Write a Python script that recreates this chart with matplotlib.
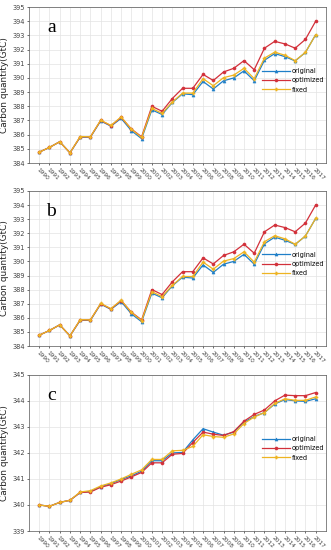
import matplotlib
matplotlib.use("Agg")
import matplotlib.pyplot as plt
import numpy as np

years = list(range(1990, 2018))

ab_original = [384.77, 385.10, 385.50, 384.72, 385.82, 385.82, 386.97, 386.60, 387.15, 386.28,
               385.72, 387.75, 387.42, 388.27, 388.88, 388.82, 389.75, 389.22, 389.80, 390.00,
               390.50, 389.80, 391.25, 391.72, 391.50, 391.20, 391.80, 393.05]
ab_optimized = [384.77, 385.10, 385.50, 384.72, 385.85, 385.85, 387.00, 386.63, 387.22, 386.40,
                385.85, 388.00, 387.65, 388.55, 389.27, 389.27, 390.25, 389.82, 390.42, 390.68,
                391.22, 390.58, 392.10, 392.58, 392.40, 392.10, 392.72, 394.00]
ab_fixed = [384.77, 385.10, 385.50, 384.72, 385.87, 385.85, 387.02, 386.65, 387.25, 386.38,
            385.80, 387.85, 387.50, 388.30, 388.93, 388.93, 389.95, 389.45, 390.02, 390.20,
            390.68, 389.95, 391.40, 391.82, 391.60, 391.22, 391.80, 393.05]

c_original = [340.00, 339.95, 340.10, 340.18, 340.48, 340.52, 340.70, 340.82, 340.98, 341.12,
              341.30, 341.70, 341.70, 342.00, 342.02, 342.50, 342.93, 342.80, 342.68, 342.80,
              343.18, 343.40, 343.55, 343.88, 344.05, 344.00, 343.98, 344.08]
c_optimized = [340.00, 339.95, 340.10, 340.18, 340.48, 340.50, 340.68, 340.78, 340.92, 341.08,
               341.25, 341.62, 341.62, 341.95, 341.98, 342.40, 342.80, 342.72, 342.67, 342.82,
               343.22, 343.48, 343.65, 344.00, 344.22, 344.20, 344.20, 344.32]
c_fixed = [340.00, 339.95, 340.10, 340.18, 340.50, 340.55, 340.73, 340.85, 341.00, 341.18,
           341.35, 341.75, 341.75, 342.08, 342.10, 342.25, 342.70, 342.63, 342.60, 342.73,
           343.13, 343.38, 343.55, 343.90, 344.08, 344.02, 344.02, 344.15]

panels = [
    ("a", ab_original, ab_optimized, ab_fixed, (384, 395)),
    ("b", ab_original, ab_optimized, ab_fixed, (384, 395)),
    ("c", c_original, c_optimized, c_fixed, (339, 345)),
]
series_names = ["original", "optimized", "fixed"]
colors = ["#1f7fc8", "#d2303a", "#eeb422"]
markers = ["^", "o", "P"]

fig = plt.figure(figsize=(3.31, 5.5), dpi=100)
positions = [
    [0.0876, 0.7036, 0.897, 0.2836],
    [0.0876, 0.3709, 0.897, 0.2820],
    [0.0876, 0.0345, 0.897, 0.2840],
]

for pos, (lab, so, sop, sf, ylim) in zip(positions, panels):
    ax = fig.add_axes(pos)
    for name, vals, col, mk in zip(series_names, [so, sop, sf], colors, markers):
        ax.plot(years, vals, color=col, marker=mk, markersize=2.2, linewidth=0.9,
                label=name, markeredgewidth=0.4)
    ax.set_xlim(1989, 2018)
    ax.set_ylim(*ylim)
    ax.set_xticks(years)
    ax.set_xticklabels([str(y) for y in years], rotation=-45, ha="left", va="top",
                       rotation_mode="anchor", fontsize=4.2, color="#444444")
    ax.set_yticks(range(ylim[0], ylim[1] + 1))
    ax.tick_params(axis="y", labelsize=4.8, labelcolor="#444444", length=1.5, width=0.4, pad=1.5)
    ax.tick_params(axis="x", length=1.5, width=0.4, pad=1.2)
    ax.grid(True, color="#e3e3e3", linewidth=0.5)
    ax.set_axisbelow(True)
    for sp in ax.spines.values():
        sp.set_linewidth(0.5)
        sp.set_color("#555555")
    ax.set_ylabel("Carbon quantity(GtC)", fontsize=6.4, color="#222222", labelpad=2.5)
    ax.text(0.075, 0.87, lab, transform=ax.transAxes, fontsize=14,
            family="Liberation Serif", va="center", ha="center")
    ax.legend(loc="center left", bbox_to_anchor=(0.775, 0.53), frameon=False,
              fontsize=4.7, handlelength=4.2, handletextpad=0.3, labelspacing=0.5,
              borderpad=0)

fig.savefig("out.png", dpi=100)
